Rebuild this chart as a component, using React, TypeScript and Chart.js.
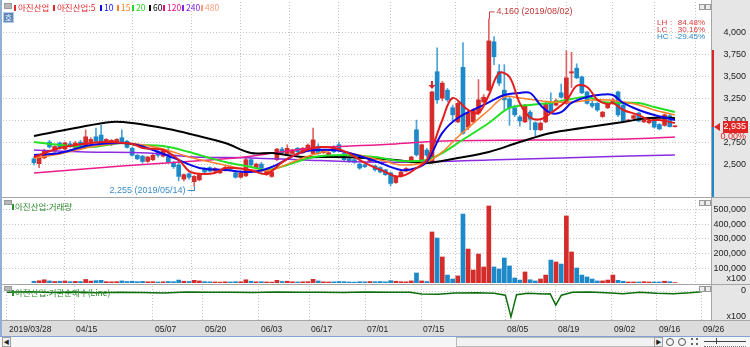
import React, { useEffect, useRef } from 'react';
import { Chart, registerables } from 'chart.js';

Chart.register(...registerables);

// ---------------- data ----------------
const DATE_TICK_IDX = [0, 12, 26, 35, 45, 54, 64, 74, 89, 98, 108, 116, 124];
const DATE_TICK_LABELS = ['2019/03/28', '04/15', '05/07', '05/20', '06/03', '06/17', '07/01', '07/15', '08/05', '08/19', '09/02', '09/16', '09/26'];

const OPEN = [
  2570, 2515, 2580, 2760, 2660, 2750, 2680, 2740, 2700, 2760,
  2700, 2760, 2820, 2840, 2740, 2730, 2750, 2810, 2770, 2690,
  2610, 2600, 2540, 2560, 2650, 2600, 2590, 2530, 2500, 2340,
  2400, 2310, 2330, 2450, 2470, 2430, 2410, 2440, 2480, 2410,
  2360, 2375, 2560, 2470, 2510, 2390, 2370, 2560, 2680, 2630,
  2630, 2690, 2640, 2670, 2630, 2710, 2640, 2615, 2700, 2730,
  2630, 2570, 2560, 2510, 2500, 2540, 2490, 2470, 2445, 2410,
  2300, 2370, 2430, 2530, 2900, 2535, 2670, 2540, 3560, 3260,
  3350, 3150, 2990, 3610, 2930, 2990, 3090, 3215, 3350, 3900,
  3560, 3350, 3250, 3150, 3045, 2990, 3100, 2980, 2900, 2990,
  3200, 3180, 3320, 3200, 3545, 3600, 3500, 3330, 3200, 3200,
  3050, 3150, 3200, 3330, 3180, 3000, 3030, 3090, 2990, 2980,
  3030, 2960, 2950, 3060, 2935,
];
const HIGH = [
  2590, 2600, 2680, 2780, 2720, 2760, 2760, 2770, 2770, 2780,
  2900, 2810, 2920, 2950, 2800, 2790, 2800, 2900, 2780, 2700,
  2620, 2610, 2600, 2620, 2670, 2680, 2700, 2540, 2560, 2400,
  2410, 2380, 2400, 2470, 2480, 2470, 2450, 2490, 2490, 2420,
  2420, 2580, 2570, 2520, 2530, 2450, 2430, 2690, 2700, 2730,
  2680, 2700, 2700, 2740, 2920, 2740, 2680, 2650, 2720, 2760,
  2640, 2580, 2570, 2520, 2510, 2580, 2500, 2480, 2450, 2420,
  2380, 2430, 2470, 2600, 3010, 2740, 2690, 3340, 3830, 3450,
  3370, 3180, 3220, 3890, 3120, 3140, 3470, 3300, 4160, 3960,
  3640, 3640, 3270, 3180, 3060, 3190, 3120, 2990, 2990, 3210,
  3320, 3250, 3420, 3800, 3780, 3650, 3510, 3340, 3230, 3210,
  3110, 3200, 3260, 3340, 3190, 3020, 3070, 3100, 3020, 3010,
  3040, 2970, 3080, 3080, 2940,
];
const LOW = [
  2500, 2470, 2570, 2690, 2640, 2680, 2670, 2700, 2690, 2680,
  2690, 2740, 2760, 2750, 2730, 2720, 2740, 2740, 2690, 2600,
  2560, 2520, 2530, 2550, 2590, 2590, 2520, 2460, 2320, 2320,
  2340, 2255, 2320, 2400, 2420, 2420, 2400, 2430, 2440, 2350,
  2350, 2370, 2490, 2460, 2400, 2380, 2360, 2550, 2630, 2620,
  2620, 2640, 2630, 2660, 2620, 2620, 2630, 2600, 2640, 2660,
  2550, 2530, 2520, 2450, 2470, 2530, 2430, 2410, 2380, 2260,
  2290, 2360, 2420, 2520, 2600, 2530, 2590, 2530, 3200, 3230,
  3220, 3000, 2980, 2850, 2900, 2970, 3070, 3200, 3340, 3640,
  3400, 3120, 2950, 3050, 2940, 2980, 2900, 2830, 2890, 2980,
  3100, 3170, 3260, 3190, 3380, 3480, 3310, 3190, 3150, 3110,
  3040, 3140, 3190, 3050, 2990, 2990, 3020, 2990, 2980, 2970,
  2920, 2900, 2940, 2930, 2930,
];
const CLOSE = [
  2525, 2590, 2660, 2705, 2710, 2690, 2750, 2710, 2750, 2690,
  2820, 2790, 2770, 2760, 2790, 2780, 2790, 2760, 2700, 2610,
  2570, 2540, 2590, 2610, 2610, 2660, 2530, 2480, 2370, 2390,
  2360, 2370, 2390, 2420, 2430, 2460, 2440, 2470, 2450, 2360,
  2410, 2560, 2500, 2510, 2465, 2440, 2420, 2680, 2640, 2690,
  2670, 2650, 2690, 2725, 2785, 2630, 2670, 2640, 2650, 2670,
  2560, 2540, 2530, 2465, 2480, 2570, 2445, 2420, 2390, 2290,
  2370, 2420, 2460, 2590, 2615, 2730, 2610, 3330, 3240, 3430,
  3240, 3070, 3200, 2860, 3090, 3125, 3240, 3270, 3910, 3730,
  3430, 3240, 3150, 3070, 3000, 3180, 3020, 2900, 2975, 3200,
  3110, 3230, 3270, 3490, 3560, 3490, 3320, 3200, 3170, 3125,
  3100, 3190, 3240, 3070, 3000, 3010, 3060, 3000, 3010, 3000,
  2930, 2910, 3070, 2935, 2935,
];
const VOLUME = [
  12000, 15000, 22000, 14000, 10000, 12000, 14000, 9000, 11000, 10000,
  24000, 13000, 16000, 18000, 9000, 8000, 9000, 14000, 10000, 12000,
  9000, 11000, 8000, 9000, 7000, 8000, 10000, 9000, 20000, 12000,
  10000, 18000, 14000, 9000, 8000, 7000, 6000, 8000, 7000, 9000,
  8000, 22000, 12000, 8000, 9000, 7000, 6000, 18000, 10000, 12000,
  8000, 7000, 8000, 9000, 25000, 14000, 8000, 7000, 8000, 10000,
  9000, 7000, 6000, 9000, 8000, 10000, 9000, 10000, 8000, 16000,
  12000, 9000, 8000, 14000, 68000, 14000, 10000, 347000, 306000, 177000,
  54000, 27000, 48000, 469000, 231000, 88000, 197000, 109000, 524000, 109000,
  95000, 170000, 116000, 34000, 20000, 75000, 22000, 14000, 27000, 54000,
  156000, 143000, 129000, 456000, 211000, 102000, 54000, 41000, 27000, 14000,
  14000, 20000, 54000, 18000, 12000, 7000, 7000, 7000, 9000, 7000,
  7000, 7000, 12000, 9000, 3000,
];

// moving averages: [day index, price]
const MA5 = [[0,2591],[5,2693],[11,2750],[14,2761],[19,2739],[21,2693],[25,2670],[28,2560],[30,2430],[32,2400],[35,2409],[37,2466],[40,2460],[42,2440],[45,2400],[48,2530],[50,2600],[54,2693],[58,2693],[61,2630],[64,2523],[68,2420],[70,2370],[72,2390],[74,2466],[76,2557],[79,3011],[81,3261],[84,3125],[86,3091],[88,3295],[90,3545],[92,3500],[94,3200],[96,3040],[98,3020],[100,3091],[103,3230],[105,3400],[107,3386],[109,3240],[111,3190],[112,3205],[114,3125],[117,3068],[119,3011],[121,3011],[124,2977]];
const MA10 = [[0,2614],[5,2636],[11,2727],[17,2750],[20,2727],[23,2670],[27,2580],[32,2466],[37,2443],[42,2420],[46,2477],[52,2648],[58,2670],[61,2636],[66,2545],[71,2443],[74,2466],[76,2534],[79,2864],[82,3034],[87,3182],[91,3295],[94,3318],[96,3318],[98,3180],[100,3091],[102,3100],[104,3205],[107,3273],[110,3300],[112,3295],[114,3205],[117,3125],[120,3068],[124,3011]];
const MA15 = [[0,2580],[5,2625],[11,2705],[17,2750],[20,2739],[25,2682],[30,2591],[35,2523],[42,2443],[46,2443],[52,2580],[58,2670],[61,2636],[67,2557],[71,2500],[76,2534],[79,2648],[82,2818],[88,3125],[91,3273],[94,3261],[100,3216],[104,3216],[108,3239],[111,3239],[114,3216],[117,3182],[120,3125],[124,3068]];
const MA20 = [[0,2761],[5,2727],[11,2705],[17,2750],[20,2727],[25,2716],[30,2648],[34,2580],[37,2534],[42,2477],[45,2443],[49,2500],[54,2591],[60,2614],[66,2591],[71,2545],[76,2557],[79,2636],[82,2750],[88,2977],[92,3148],[96,3182],[100,3205],[104,3250],[107,3273],[110,3216],[113,3205],[117,3205],[120,3159],[124,3102]];
const MA60 = [[0,2830],[8,2920],[15,2989],[19,2977],[26,2909],[31,2841],[37,2750],[42,2636],[46,2636],[52,2591],[58,2591],[64,2580],[70,2557],[76,2523],[82,2580],[88,2648],[94,2761],[100,2864],[106,2920],[110,2955],[114,2989],[119,3034],[124,3034]];
const MA120 = [[0,2409],[17,2489],[34,2557],[42,2600],[49,2659],[54,2693],[70,2739],[79,2773],[97,2784],[115,2795],[124,2818]];
const MA240 = [[0,2670],[10,2648],[22,2636],[31,2591],[42,2580],[52,2557],[64,2534],[75,2534],[88,2557],[102,2580],[115,2602],[124,2614]];

// 기관순매수 (x100) : [day index, value]
const INST = [[0,-8],[4,-5],[8,-9],[12,-6],[16,-10],[20,-7],[24,-9],[28,-12],[32,-6],[36,-8],[40,-7],[44,-9],[48,-6],[52,-8],[56,-7],[60,-9],[64,-6],[68,-8],[72,-7],[74,-18],[77,-20],[80,-12],[84,-10],[87,-14],[89,-25],[90,-155],[91,-22],[93,-14],[96,-18],[97,-16],[98,-85],[99,-25],[101,-8],[104,-6],[107,-10],[110,-16],[113,-8],[116,-14],[119,-16],[122,-10],[124,-4]];

const PRICE_TICKS = [2500, 2750, 3000, 3250, 3500, 3750, 4000];
const VOLUME_TICKS = [100000, 200000, 300000, 400000, 500000];
const INST_TICKS = [0];

const LEGEND_LABELS = ['아진산업', '아진산업:5', '10', '15', '20', '60', '120', '240', '480'];
const LEGEND_COLORS = ['#e42a2a', '#e42a2a', '#1010e8', '#ff7f2a', '#22d822', '#000000', '#e8107e', '#7f28e0', '#ff9c7c'];

const LOW_IDX = 31, LOW_PRICE = 2255, LOW_TEXT = '2,255 (2019/05/14)';
const HIGH_IDX = 88, HIGH_PRICE = 4160, HIGH_TEXT = '4,160 (2019/08/02)';
const SIGNAL_IDX = 77;
const CURRENT_PRICE = 2935, CURRENT_TEXT = '2,935', CHANGE_TEXT = '0.00%';
const RANGE_TOP = 3810;
const STAT_LABELS = ['LH', 'LC', 'HC'];
const STAT_VALUES = ['84.48%', '30.16%', '-29.45%'];

// ---------------- style / layout ----------------
const AXIS_W = 38;
const X_MIN = -0.714;
const X_MAX = 125.9;
const PRICE_MIN = 2136, PRICE_MAX = 4352;
const VOL_MAX = 564600;
const INST_MIN = -174, INST_MAX = 30;
const GRID_COLOR = '#c4c4c4';
const AXIS_BG = '#e6e6e6';
const BAND_BG = '#dcdcdc';
const FRAME = '#a6a6a6';
const UP = '#d42b2b', DOWN = '#1e89c9', UP_WICK = '#e06464', DOWN_WICK = '#4aa3da';
const LEGEND_X = [14, 53, 100, 117, 132, 149, 163, 182, 201];
const AXIS_FONT = '9px "Liberation Sans", Arial, sans-serif';

const isUp = (i: number) => CLOSE[i] >= OPEN[i];

function xScale(): any {
  return {
    type: 'linear', min: X_MIN, max: X_MAX,
    afterBuildTicks: (s: any) => { s.ticks = DATE_TICK_IDX.map((v) => ({ value: v })); },
    ticks: { display: false },
    grid: { color: GRID_COLOR, drawTicks: false, lineWidth: 1 },
    border: { display: false, dash: [1, 2] },
  };
}
function yScale(min: number, max: number, ticks: number[]): any {
  return {
    type: 'linear', position: 'right', min, max,
    afterBuildTicks: (s: any) => { s.ticks = ticks.map((v) => ({ value: v })); },
    afterFit: (s: any) => { s.width = AXIS_W; },
    ticks: { display: false },
    grid: { color: GRID_COLOR, drawTicks: false, lineWidth: 1 },
    border: { display: false, dash: [1, 2] },
  };
}

function drawYLabels(chart: any, ticks: number[], fmt: (v: number) => string) {
  const { ctx, scales } = chart;
  const s = scales.y;
  ctx.save();
  ctx.font = AXIS_FONT;
  ctx.fillStyle = '#222';
  ctx.textAlign = 'right';
  ctx.textBaseline = 'middle';
  ticks.forEach((v) => ctx.fillText(fmt(v), chart.width - 4, s.getPixelForValue(v)));
  ctx.restore();
}

function panelPlugin(kind: string): any {
  return {
    id: 'panel_' + kind,
    beforeDraw(chart: any) {
      const { ctx, chartArea: a, width, height } = chart;
      ctx.save();
      ctx.fillStyle = '#ffffff';
      ctx.fillRect(0, 0, width, height);
      ctx.fillStyle = AXIS_BG;
      ctx.fillRect(a.right, 0, width - a.right, height);
      if (kind === 'inst') {
        ctx.fillStyle = BAND_BG;
        ctx.fillRect(0, a.bottom + 1, width, height - a.bottom - 1);
      }
      ctx.restore();
    },
    afterDraw(chart: any) {
      const { ctx, chartArea: a, width, height, scales } = chart;
      ctx.save();
      ctx.strokeStyle = FRAME;
      ctx.lineWidth = 1;
      ctx.beginPath();
      ctx.moveTo(a.right - 0.5, 0);
      ctx.lineTo(a.right - 0.5, kind === 'inst' ? a.bottom + 1 : height);
      ctx.stroke();
      ctx.beginPath();
      if (kind === 'inst') {
        ctx.moveTo(0, a.bottom + 0.5);
        ctx.lineTo(width, a.bottom + 0.5);
      } else {
        ctx.moveTo(0, height - 0.5);
        ctx.lineTo(width, height - 0.5);
      }
      ctx.stroke();
      ctx.restore();

      if (kind === 'price') {
        drawYLabels(chart, PRICE_TICKS, (v) => v.toLocaleString('en-US'));
        const xs = scales.x, ys = scales.y;
        // range bar + current price
        const cy = Math.round(ys.getPixelForValue(CURRENT_PRICE));
        const ty = Math.round(ys.getPixelForValue(RANGE_TOP));
        ctx.save();
        ctx.fillStyle = '#e02424';
        ctx.fillRect(a.right, ty, 2, cy - ty);
        ctx.fillStyle = '#1e89c9';
        ctx.fillRect(a.right, cy, 2, a.bottom - cy);
        ctx.fillStyle = '#e02424';
        ctx.beginPath();
        ctx.moveTo(a.right + 2, cy);
        ctx.lineTo(a.right + 8, cy - 4);
        ctx.lineTo(a.right + 8, cy + 4);
        ctx.closePath();
        ctx.fill();
        ctx.fillRect(width - 27, cy - 6, 25, 12);
        ctx.font = AXIS_FONT;
        ctx.textAlign = 'right';
        ctx.textBaseline = 'middle';
        ctx.fillStyle = '#ffffff';
        ctx.fillText(CURRENT_TEXT, width - 4, cy);
        ctx.fillStyle = '#e02424';
        ctx.fillText(CHANGE_TEXT, width - 4, cy + 10);

        // high annotation
        const hx = Math.round(xs.getPixelForValue(HIGH_IDX)) + 0.5;
        const hy = ys.getPixelForValue(HIGH_PRICE);
        ctx.strokeStyle = '#c84040';
        ctx.beginPath();
        ctx.moveTo(hx, hy);
        ctx.lineTo(hx, hy - 7);
        ctx.lineTo(hx + 5, hy - 7);
        ctx.stroke();
        ctx.fillStyle = '#c03838';
        ctx.textAlign = 'left';
        ctx.fillText(HIGH_TEXT, hx + 7, hy - 7);

        // low annotation
        const lx = Math.round(xs.getPixelForValue(LOW_IDX)) + 0.5;
        const ly = ys.getPixelForValue(LOW_PRICE);
        ctx.strokeStyle = '#3a8ccc';
        ctx.beginPath();
        ctx.moveTo(lx, ly);
        ctx.lineTo(lx, ly + 4);
        ctx.lineTo(lx - 7, ly + 4);
        ctx.stroke();
        ctx.fillStyle = '#3a8ccc';
        ctx.textAlign = 'right';
        ctx.fillText(LOW_TEXT, lx - 9, ly + 4);

        // signal arrow
        const sx = xs.getPixelForValue(SIGNAL_IDX);
        const sy = ys.getPixelForValue(HIGH[SIGNAL_IDX]) - 2;
        ctx.fillStyle = '#e02424';
        ctx.beginPath();
        ctx.moveTo(sx, sy);
        ctx.lineTo(sx - 3.5, sy - 4);
        ctx.lineTo(sx + 3.5, sy - 4);
        ctx.closePath();
        ctx.fill();
        ctx.fillRect(sx - 1, sy - 8, 2, 4);
        ctx.restore();
      } else if (kind === 'vol') {
        drawYLabels(chart, VOLUME_TICKS, (v) => v.toLocaleString('en-US'));
        ctx.save();
        ctx.font = AXIS_FONT;
        ctx.fillStyle = '#222';
        ctx.textAlign = 'right';
        ctx.textBaseline = 'middle';
        ctx.fillText('x100', width - 4, a.bottom - 4);
        ctx.restore();
      } else {
        drawYLabels(chart, INST_TICKS, (v) => String(v));
        const xs = scales.x;
        ctx.save();
        ctx.font = AXIS_FONT;
        ctx.fillStyle = '#222';
        ctx.textAlign = 'right';
        ctx.textBaseline = 'middle';
        ctx.fillText('x100', width - 4, a.bottom - 3);
        ctx.textAlign = 'left';
        ctx.font = '8.5px "Liberation Sans", Arial, sans-serif';
        DATE_TICK_IDX.forEach((v, i) => {
          ctx.fillText(DATE_TICK_LABELS[i], Math.round(xs.getPixelForValue(v)) + 2, a.bottom + 9.5);
        });
        ctx.restore();
      }
    },
  };
}

function maLine(points: number[][], color: string, width: number): any {
  return {
    type: 'line',
    data: points.map(([x, y]) => ({ x, y })),
    borderColor: color,
    borderWidth: width,
    pointRadius: 0,
    tension: 0.35,
    order: 0,
  };
}

const baseOptions = (padding: any, scales: any): any => ({
  responsive: false,
  animation: false,
  devicePixelRatio: 1,
  layout: { padding },
  plugins: { legend: { display: false }, tooltip: { enabled: false } },
  scales,
});

function priceConfig(): any {
  return {
    type: 'bar',
    data: {
      datasets: [
        maLine(MA5, '#e51c1c', 2),
        maLine(MA10, '#0a0ae6', 2),
        maLine(MA15, '#ff7f2a', 1.5),
        maLine(MA20, '#22e022', 2),
        maLine(MA60, '#000000', 2),
        maLine(MA120, '#ec1c8c', 1.5),
        maLine(MA240, '#8a2be2', 1.5),
        {
          type: 'bar',
          data: OPEN.map((o, i) => ({ x: i, y: [o, CLOSE[i]] })),
          backgroundColor: OPEN.map((_, i) => (isUp(i) ? UP : DOWN)),
          barThickness: 4,
          minBarLength: 1,
          grouped: false,
          order: 1,
        },
        {
          type: 'bar',
          data: OPEN.map((_, i) => ({ x: i, y: [LOW[i], HIGH[i]] })),
          backgroundColor: OPEN.map((_, i) => (isUp(i) ? UP_WICK : DOWN_WICK)),
          barThickness: 1,
          grouped: false,
          order: 2,
        },
      ],
    },
    options: baseOptions({ left: 3, top: 2, bottom: 1, right: 0 }, {
      x: xScale(),
      y: yScale(PRICE_MIN, PRICE_MAX, PRICE_TICKS),
    }),
    plugins: [panelPlugin('price')],
  };
}

function volumeConfig(): any {
  return {
    type: 'bar',
    data: {
      datasets: [{
        type: 'bar',
        data: VOLUME.map((v, i) => ({ x: i, y: v })),
        backgroundColor: VOLUME.map((_, i) => (isUp(i) ? UP : DOWN)),
        barThickness: 4,
        grouped: false,
      }],
    },
    options: baseOptions({ left: 3, top: 2, bottom: 2, right: 0 }, {
      x: xScale(),
      y: yScale(0, VOL_MAX, VOLUME_TICKS),
    }),
    plugins: [panelPlugin('vol')],
  };
}

function instConfig(): any {
  return {
    type: 'line',
    data: {
      datasets: [{
        data: INST.map(([x, y]) => ({ x, y })),
        borderColor: '#0b6e0b',
        borderWidth: 1.5,
        pointRadius: 0,
        tension: 0,
      }],
    },
    options: baseOptions({ left: 3, top: 1, bottom: 16, right: 0 }, {
      x: xScale(),
      y: yScale(INST_MIN, INST_MAX, INST_TICKS),
    }),
    plugins: [panelPlugin('inst')],
  };
}

function CornerIcons({ top }: { top: number }) {
  const box: React.CSSProperties = { position: 'absolute', top, width: 4, height: 4, border: '1px solid #9a9a9a', background: '#ececec' };
  return (
    <>
      <div style={{ ...box, left: 699 }} />
      <div style={{ ...box, left: 705 }} />
    </>
  );
}

function PanelHeader({ top, text }: { top: number; text: string }) {
  return (
    <>
      <div style={{ position: 'absolute', left: 4, top: top - 1, width: 6, height: 3, background: '#b8b8b8', border: '1px solid #999' }} />
      <div style={{ position: 'absolute', left: 12, top: top + 1, height: 9, display: 'flex', alignItems: 'center', fontSize: 8.5, lineHeight: '9px', color: '#2e8b2e', whiteSpace: 'nowrap' }}>
        <span style={{ display: 'inline-block', width: 2, height: 6, background: '#2e8b2e', marginRight: 1 }} />
        {text}
      </div>
    </>
  );
}

export default function App() {
  const priceRef = useRef<HTMLCanvasElement>(null);
  const volRef = useRef<HTMLCanvasElement>(null);
  const instRef = useRef<HTMLCanvasElement>(null);

  useEffect(() => {
    const charts = [
      new Chart(priceRef.current as HTMLCanvasElement, priceConfig()),
      new Chart(volRef.current as HTMLCanvasElement, volumeConfig()),
      new Chart(instRef.current as HTMLCanvasElement, instConfig()),
    ];
    return () => charts.forEach((c) => c.destroy());
  }, []);

  const statFont: React.CSSProperties = { position: 'absolute', fontSize: 8, lineHeight: '7px', fontFamily: '"Liberation Sans", Arial, sans-serif', whiteSpace: 'nowrap' };

  return (
    <div style={{ position: 'relative', width: 750, height: 347, background: '#ffffff', overflow: 'hidden', fontFamily: '"Noto Sans CJK KR", "Noto Sans", sans-serif' }}>
      <style>{'body{margin:0}'}</style>
      <canvas ref={priceRef} width={750} height={198} style={{ position: 'absolute', left: 0, top: 0 }} />
      <canvas ref={volRef} width={750} height={87} style={{ position: 'absolute', left: 0, top: 198 }} />
      <canvas ref={instRef} width={750} height={51} style={{ position: 'absolute', left: 0, top: 285 }} />

      {/* left frame */}
      <div style={{ position: 'absolute', left: 0, top: 0, width: 2, height: 336, background: '#90b0d8' }} />

      {/* legend */}
      <div style={{ position: 'absolute', left: 4, top: 3, width: 6, height: 4, background: '#b8b8b8', border: '1px solid #999' }} />
      {LEGEND_LABELS.map((label, i) => (
        <div key={i} style={{ position: 'absolute', left: LEGEND_X[i], top: 3, height: 9, display: 'flex', alignItems: 'center', fontSize: 8.5, lineHeight: '9px', color: LEGEND_COLORS[i], whiteSpace: 'nowrap' }}>
          <span style={{ display: 'inline-block', width: 2, height: 6, background: LEGEND_COLORS[i], marginRight: 2 }} />
          {label}
        </div>
      ))}
      <div style={{ position: 'absolute', left: 3, top: 12, width: 9, height: 9, background: '#5d86bb', border: '1px solid #b7cbe6', color: '#fff', fontSize: 7.5, lineHeight: '9px', textAlign: 'center' }}>호</div>

      {/* stats */}
      {STAT_LABELS.map((lab, i) => {
        const color = i < 2 ? '#e03a3a' : '#2f86c6';
        const top = 19 + i * 7;
        return (
          <React.Fragment key={lab}>
            <div style={{ ...statFont, left: 657, top, color }}>{lab}</div>
            <div style={{ ...statFont, left: 670, top, color }}>:</div>
            <div style={{ ...statFont, right: 45, top, color, textAlign: 'right' }}>{STAT_VALUES[i]}</div>
          </React.Fragment>
        );
      })}

      <CornerIcons top={4} />
      <CornerIcons top={200} />
      <CornerIcons top={286} />

      <PanelHeader top={201} text="아진산업:거래량" />
      <PanelHeader top={287} text="아진산업:기관순매수(Line)" />

      {/* scrollbar row */}
      <div style={{ position: 'absolute', left: 0, top: 336, width: 750, height: 11, background: '#f6f6f6', borderTop: '1px solid #7fa3d6', boxSizing: 'border-box' }} />
      <div style={{ position: 'absolute', left: 2, top: 337, width: 7, height: 8, border: '1px solid #a0a0a0', background: '#f0f0f0', fontSize: 6, lineHeight: '8px', textAlign: 'center', color: '#222' }}>◀</div>
      <div style={{ position: 'absolute', left: 456, top: 337, width: 197, height: 8, border: '1px solid #b8b8b8', background: '#f2f2f2' }} />
      <div style={{ position: 'absolute', left: 654, top: 337, width: 7, height: 8, border: '1px solid #a0a0a0', background: '#f0f0f0', fontSize: 6, lineHeight: '8px', textAlign: 'center', color: '#222' }}>▶</div>
      <div style={{ position: 'absolute', left: 666, top: 338, width: 6, height: 6, border: '1px solid #555', borderRadius: '50%' }} />
      <div style={{ position: 'absolute', left: 678, top: 338, width: 6, height: 6, border: '1px solid #555', borderRadius: '50%' }} />
      <div style={{ position: 'absolute', left: 691, top: 338, width: 7, height: 7, borderLeft: '2px dotted #666', borderRight: '2px dotted #666', boxSizing: 'border-box' }} />
      <div style={{ position: 'absolute', left: 704, top: 341, width: 42, height: 1, background: '#444' }} />
      <div style={{ position: 'absolute', left: 716, top: 338, width: 1, height: 6, background: '#444' }} />
      <div style={{ position: 'absolute', left: 704, top: 344, width: 42, height: 2, borderBottom: '1px dotted #777' }} />
    </div>
  );
}
